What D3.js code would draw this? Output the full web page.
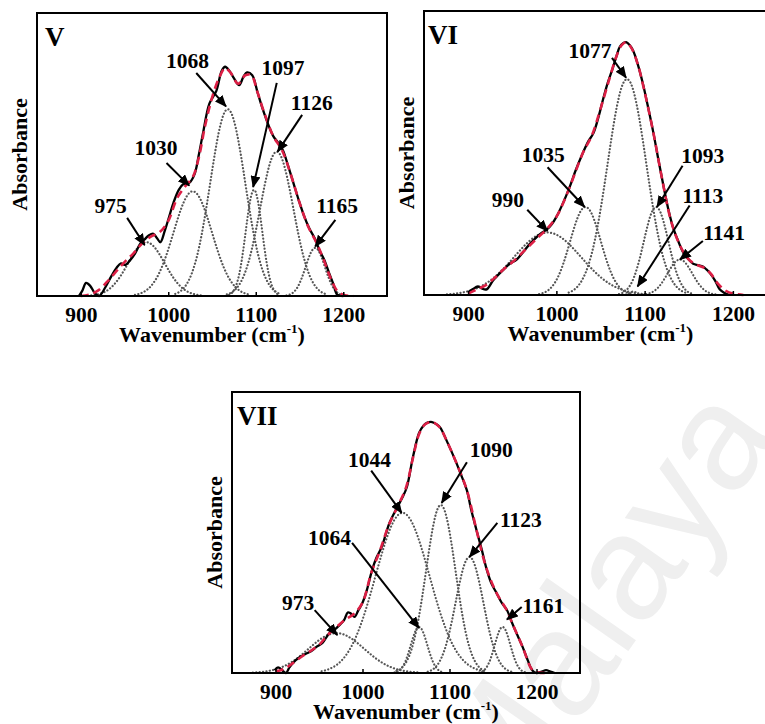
<!DOCTYPE html>
<html lang="en">
<head>
<meta charset="utf-8" />
<title>FTIR band deconvolution V, VI, VII</title>
<script src="https://cdn.jsdelivr.net/npm/d3@7"></script>
<style>
  body { margin: 0; background: #fff; }
</style>
</head>
<body>
<svg id="chart" width="765" height="724" viewBox="0 0 765 724"></svg>
<script>
// ---- data (wavenumber cm-1, relative absorbance 0..1) ----
const wavenumberTicks = [900, 1000, 1100, 1200];

// panel V
const measuredV = [[898,0],[902,0.02],[906,0.046],[911,0.035],[916,0.01],[921,0],[928,0.03],[935,0.07],[941,0.1],[946,0.115],[951,0.11],[956,0.125],[962,0.15],[968,0.185],[973,0.2],[978,0.215],[983,0.22],[987,0.205],[991,0.19],[996,0.23],[1001,0.28],[1006,0.33],[1012,0.375],[1017,0.395],[1024,0.4],[1030,0.43],[1035,0.5],[1040,0.58],[1047,0.68],[1055,0.725],[1061,0.795],[1065,0.81],[1070,0.795],[1075,0.77],[1081,0.745],[1086,0.775],[1090,0.79],[1096,0.78],[1102,0.72],[1108,0.66],[1115,0.6],[1120,0.565],[1126,0.54],[1131,0.515],[1137,0.46],[1143,0.4],[1149,0.34],[1155,0.285],[1161,0.24],[1168,0.2],[1173,0.16],[1178,0.13],[1184,0.08],[1189,0.04],[1193,0.005],[1200,0]];
const fitV = [[900,0],[910,0.005],[920,0.02],[930,0.05],[940,0.085],[950,0.12],[960,0.15],[970,0.185],[980,0.21],[990,0.225],[1000,0.265],[1010,0.345],[1020,0.39],[1028,0.42],[1035,0.49],[1042,0.6],[1050,0.7],[1058,0.77],[1065,0.805],[1071,0.79],[1080,0.75],[1088,0.78],[1095,0.78],[1102,0.72],[1110,0.645],[1120,0.565],[1130,0.515],[1140,0.43],[1150,0.33],[1160,0.245],[1170,0.185],[1178,0.125],[1186,0.06],[1194,0.015],[1202,0.003],[1212,0]];
const bandCentersV = [975, 1028, 1068, 1098, 1124, 1168];
const bandHeightsV = [0.19, 0.37, 0.66, 0.375, 0.51, 0.17];
const bandWidthsV  = [21, 22, 20, 9.5, 19, 11];
const calloutsV = [
  { text: "975",  label: [934, 0.293],  from: [953, 0.276],  to: [973, 0.18] },
  { text: "1030", label: [986, 0.498],  from: [998, 0.47],   to: [1024, 0.39] },
  { text: "1068", label: [1022, 0.806], from: [1032, 0.788], to: [1066, 0.67] },
  { text: "1097", label: [1131, 0.781], from: [1124, 0.753], to: [1097, 0.385] },
  { text: "1126", label: [1164, 0.657], from: [1153, 0.64],  to: [1125, 0.51] },
  { text: "1165", label: [1193, 0.293], from: [1191, 0.269], to: [1168, 0.175] }
];

// panel VI
const measuredVI = [[900,0.01],[905,0.02],[911,0.03],[916,0.022],[921,0.02],[928,0.05],[936,0.077],[942,0.095],[947,0.11],[955,0.125],[962,0.15],[970,0.18],[978,0.205],[984,0.22],[989,0.23],[995,0.25],[1000,0.275],[1007,0.32],[1015,0.38],[1022,0.44],[1030,0.5],[1036,0.54],[1042,0.57],[1048,0.63],[1053,0.69],[1058,0.745],[1064,0.8],[1068,0.84],[1072,0.875],[1076,0.887],[1079,0.89],[1083,0.88],[1087,0.86],[1092,0.815],[1098,0.745],[1104,0.66],[1110,0.57],[1116,0.47],[1121,0.39],[1127,0.3],[1132,0.24],[1138,0.19],[1144,0.148],[1150,0.125],[1155,0.11],[1161,0.105],[1166,0.1],[1170,0.09],[1174,0.077],[1180,0.05],[1185,0.02],[1190,0.008],[1196,0]];
const fitVI = [[900,0.005],[910,0.02],[920,0.035],[930,0.06],[940,0.09],[950,0.115],[960,0.145],[970,0.175],[980,0.205],[990,0.235],[1000,0.275],[1010,0.34],[1020,0.42],[1030,0.5],[1040,0.56],[1050,0.655],[1060,0.76],[1068,0.84],[1074,0.88],[1079,0.89],[1085,0.87],[1092,0.815],[1100,0.715],[1110,0.57],[1120,0.405],[1130,0.26],[1140,0.175],[1150,0.125],[1160,0.105],[1168,0.095],[1175,0.075],[1183,0.04],[1192,0.015],[1200,0.005],[1212,0]];
const bandCentersVI = [990, 1033, 1080, 1087, 1113, 1140];
const bandHeightsVI = [0.22, 0.31, 0.76, 0.012, 0.31, 0.125];
const bandWidthsVI  = [38, 17.5, 22, 4, 14, 14];
const calloutsVI = [
  { text: "990",  label: [945, 0.31],   from: [967, 0.30],   to: [990, 0.225] },
  { text: "1035", label: [985, 0.468],  from: [990, 0.45],   to: [1032, 0.31] },
  { text: "1077", label: [1038, 0.835], from: [1063, 0.835], to: [1079, 0.765] },
  { text: "1093", label: [1166, 0.465], from: [1143, 0.455], to: [1114, 0.31] },
  { text: "1113", label: [1166, 0.324], from: [1151, 0.315], to: [1092, 0.03] },
  { text: "1141", label: [1190, 0.194], from: [1166, 0.19],  to: [1140, 0.125] }
];

// panel VII
const measuredVII = [[899,0.01],[903,0.02],[907,0.012],[912,0],[916,0.02],[920,0.036],[928,0.057],[936,0.07],[942,0.08],[947,0.093],[954,0.107],[962,0.142],[970,0.16],[975,0.175],[979,0.189],[983,0.215],[986,0.213],[991,0.2],[995,0.222],[1000,0.25],[1005,0.295],[1011,0.366],[1016,0.41],[1022,0.448],[1031,0.534],[1040,0.59],[1046,0.625],[1051,0.662],[1058,0.769],[1065,0.854],[1070,0.88],[1074,0.89],[1080,0.893],[1085,0.885],[1089,0.875],[1098,0.818],[1108,0.747],[1114,0.7],[1120,0.65],[1125,0.58],[1131,0.509],[1137,0.44],[1142,0.377],[1148,0.32],[1154,0.285],[1160,0.25],[1166,0.224],[1172,0.178],[1178,0.135],[1184,0.093],[1190,0.045],[1195,0.01],[1200,0],[1206,0.005],[1211,0.01],[1216,0.005],[1221,0]];
const fitVII = [[900,0.005],[910,0.015],[920,0.035],[930,0.058],[940,0.078],[950,0.1],[960,0.135],[970,0.163],[980,0.19],[990,0.21],[1000,0.25],[1010,0.355],[1020,0.435],[1030,0.525],[1040,0.59],[1050,0.66],[1058,0.765],[1065,0.85],[1072,0.885],[1080,0.893],[1088,0.877],[1098,0.818],[1108,0.747],[1120,0.65],[1131,0.509],[1142,0.377],[1154,0.285],[1166,0.222],[1172,0.178],[1184,0.093],[1195,0.012],[1202,0.002],[1212,0]];
const bandCentersVII = [970, 1046, 1065, 1090, 1123, 1161];
const bandHeightsVII = [0.142, 0.57, 0.164, 0.598, 0.413, 0.164];
const bandWidthsVII  = [32, 31, 9.5, 17, 16, 9];
const calloutsVII = [
  { text: "973",  label: [926, 0.224],  from: [945, 0.224],  to: [971, 0.135] },
  { text: "1044", label: [1008, 0.733], from: [1010, 0.72],  to: [1045, 0.57] },
  { text: "1064", label: [962, 0.456],  from: [988, 0.463],  to: [1065, 0.16] },
  { text: "1090", label: [1148, 0.769], from: [1120, 0.75],  to: [1091, 0.605] },
  { text: "1123", label: [1182, 0.52],  from: [1155, 0.534], to: [1123, 0.413] },
  { text: "1161", label: [1208, 0.214], from: [1183, 0.235], to: [1166, 0.19] }
];

const serif = "'Liberation Serif', 'Times New Roman', serif";
const fitColor = "#dc1f45";

const svg = d3.select("#chart");

// faint watermark behind everything
svg.append("text")
  .attr("transform", "translate(503,830) rotate(-55)")
  .attr("font-family", "'Liberation Sans', Arial, sans-serif")
  .attr("font-size", 150)
  .attr("fill", "#efefef")
  .text("Malaya");

const defs = svg.append("defs");
defs.append("marker")
  .attr("id", "head")
  .attr("markerUnits", "userSpaceOnUse")
  .attr("viewBox", "0 0 12 10")
  .attr("markerWidth", 12)
  .attr("markerHeight", 10)
  .attr("refX", 11)
  .attr("refY", 5)
  .attr("orient", "auto")
  .append("path")
  .attr("d", "M0,0 L12,5 L0,10 Z")
  .attr("fill", "#000");

function drawPanel(p) {
  const g = svg.append("g").attr("transform", `translate(${p.left},${p.top})`);
  const x = d3.scaleLinear().domain([850, 1250]).range([0, p.width]);
  const y = d3.scaleLinear().domain([0, 1]).range([p.height, 0]);
  const line = d3.line()
    .x((d) => x(d[0]))
    .y((d) => y(d[1]))
    .curve(d3.curveCatmullRom);

  // gaussian component bands
  p.centers.forEach((c, i) => {
    const s = p.widths[i];
    const h = p.heights[i];
    const pts = d3.range(c - 3 * s, c + 3 * s + 0.5, 1)
      .map((w) => [w, h * Math.exp(-((w - c) ** 2) / (2 * s * s))]);
    g.append("path")
      .attr("d", line(pts))
      .attr("fill", "none")
      .attr("stroke", "#555")
      .attr("stroke-width", 2.2)
      .attr("stroke-linecap", "round")
      .attr("stroke-dasharray", "0.1 3.3");
  });

  // measured spectrum
  g.append("path")
    .attr("d", line(p.measured))
    .attr("fill", "none")
    .attr("stroke", "#000")
    .attr("stroke-width", 2.3)
    .attr("stroke-linejoin", "round");

  // fitted envelope
  g.append("path")
    .attr("d", line(p.fit))
    .attr("fill", "none")
    .attr("stroke", fitColor)
    .attr("stroke-width", 2.6)
    .attr("stroke-dasharray", "8 5");

  // callout arrows + labels
  p.callouts.forEach((d) => {
    g.append("line")
      .attr("x1", x(d.from[0])).attr("y1", y(d.from[1]))
      .attr("x2", x(d.to[0])).attr("y2", y(d.to[1]))
      .attr("stroke", "#000")
      .attr("stroke-width", 2)
      .attr("marker-end", "url(#head)");
    g.append("text")
      .attr("x", x(d.label[0]))
      .attr("y", y(d.label[1]))
      .attr("text-anchor", "middle")
      .attr("font-family", serif)
      .attr("font-weight", "bold")
      .attr("font-size", 21.5)
      .text(d.text);
  });

  // x axis, ticks pointing inward
  const xAxis = g.append("g")
    .attr("transform", `translate(0,${p.height})`)
    .call(d3.axisBottom(x).tickValues(wavenumberTicks).tickSize(-4).tickPadding(11).tickFormat(d3.format("d")));
  xAxis.select(".domain").remove();
  xAxis.selectAll("line").attr("stroke", "#000").attr("stroke-width", 1.5);
  xAxis.selectAll("text")
    .attr("font-family", serif)
    .attr("font-weight", "bold")
    .attr("font-size", 21.5)
    .attr("fill", "#000");

  // frame
  g.append("rect")
    .attr("width", p.width)
    .attr("height", p.height)
    .attr("fill", "none")
    .attr("stroke", "#000")
    .attr("stroke-width", 2);

  // panel tag
  g.append("text")
    .attr("x", p.tagDx)
    .attr("y", 33)
    .attr("font-family", serif)
    .attr("font-weight", "bold")
    .attr("font-size", 27)
    .text(p.name);

  // axis titles
  const xt = g.append("text")
    .attr("x", p.width / 2)
    .attr("y", p.height + 46)
    .attr("text-anchor", "middle")
    .attr("font-family", serif)
    .attr("font-weight", "bold")
    .attr("font-size", 22);
  xt.append("tspan").text("Wavenumber (cm");
  xt.append("tspan").attr("dy", -9).attr("font-size", 13).text("-1");
  xt.append("tspan").attr("dy", 9).text(")");

  g.append("text")
    .attr("transform", `translate(-10,${p.height / 2}) rotate(-90)`)
    .attr("text-anchor", "middle")
    .attr("font-family", serif)
    .attr("font-weight", "bold")
    .attr("font-size", 22)
    .text("Absorbance");
}

const panels = [
  { name: "V",   left: 37,  top: 13,  width: 350, height: 283, tagDx: 8,
    measured: measuredV, fit: fitV, centers: bandCentersV, heights: bandHeightsV, widths: bandWidthsV, callouts: calloutsV },
  { name: "VI",  left: 424, top: 11,  width: 353, height: 284, tagDx: 4,
    measured: measuredVI, fit: fitVI, centers: bandCentersVI, heights: bandHeightsVI, widths: bandWidthsVI, callouts: calloutsVI },
  { name: "VII", left: 232, top: 392, width: 348, height: 281, tagDx: 5,
    measured: measuredVII, fit: fitVII, centers: bandCentersVII, heights: bandHeightsVII, widths: bandWidthsVII, callouts: calloutsVII }
];

panels.forEach(drawPanel);
</script>
</body>
</html>
